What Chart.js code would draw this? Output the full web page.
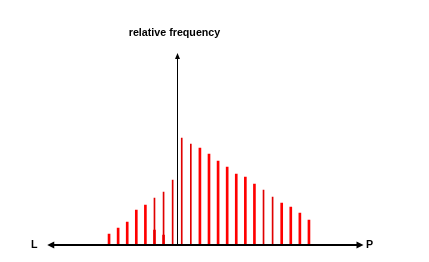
<!DOCTYPE html>
<html>
<head>
<meta charset="utf-8">
<script src="https://cdn.jsdelivr.net/npm/chart.js@4/dist/chart.umd.min.js"></script>
<style>
  html, body { margin: 0; padding: 0; background: #fff; }
  #wrap { width: 429px; height: 262px; }
</style>
</head>
<body>
<div id="wrap"><canvas id="chart" width="429" height="262"></canvas></div>
<script>
// ---- data ----
const slots = ["1","2","3","4","5","6","7","8","9","10","11","12","13","14","15","16","17","18","19","20","21","22","23"];
const thickBars = [11, 17, 23, 35, 40, 15, 10, null, null, null, 97, 91, 84, 78, 71, 68, 61, null, null, 42, 38, 32, 25];
const thinBars  = [null, null, null, null, null, 47, 53, 65, 107, 101, null, null, null, null, null, null, null, 55, 48, null, null, null, null];
const yTitle = "relative frequency";
const leftLabel = "L";
const rightLabel = "P";

// axes with arrow heads + labels
const arrowAxes = {
  id: "arrowAxes",
  afterDatasetsDraw(chart) {
    const { ctx, scales } = chart;
    const x = scales.x, y = scales.y;
    const step = x.getPixelForValue(1) - x.getPixelForValue(0);
    const y0 = Math.round(y.getPixelForValue(0));
    const xMid = Math.round((x.getPixelForValue(7) + x.getPixelForValue(8)) / 2) + 0.5;
    const left = x.getPixelForValue(0) - step * 6.8;
    const right = x.getPixelForValue(22) + step * 6;
    const top = y.getPixelForValue(192);

    ctx.save();
    ctx.fillStyle = "#000";
    ctx.strokeStyle = "#000";

    // horizontal axis
    ctx.lineWidth = 2;
    ctx.beginPath();
    ctx.moveTo(left + 4, y0);
    ctx.lineTo(right - 4, y0);
    ctx.stroke();
    ctx.beginPath();
    ctx.moveTo(left, y0);
    ctx.lineTo(left + 7, y0 - 3.5);
    ctx.lineTo(left + 7, y0 + 3.5);
    ctx.closePath();
    ctx.fill();
    ctx.beginPath();
    ctx.moveTo(right, y0);
    ctx.lineTo(right - 7, y0 - 3.5);
    ctx.lineTo(right - 7, y0 + 3.5);
    ctx.closePath();
    ctx.fill();

    // vertical axis
    ctx.lineWidth = 1;
    ctx.beginPath();
    ctx.moveTo(xMid, y0);
    ctx.lineTo(xMid, top + 3);
    ctx.stroke();
    ctx.beginPath();
    ctx.moveTo(xMid, top);
    ctx.lineTo(xMid - 2.5, top + 6);
    ctx.lineTo(xMid + 2.5, top + 6);
    ctx.closePath();
    ctx.fill();

    // labels
    ctx.font = "bold 10.7px 'Liberation Sans', Arial, sans-serif";
    ctx.textBaseline = "middle";
    ctx.textAlign = "center";
    ctx.fillText(yTitle, xMid - 3, 33);
    ctx.fillText(leftLabel, left - 13, y0);
    ctx.fillText(rightLabel, right + 6, y0);
    ctx.restore();
  }
};

const ctx = document.getElementById("chart").getContext("2d");
new Chart(ctx, {
  type: "bar",
  data: {
    labels: slots,
    datasets: [
      { data: thinBars,  backgroundColor: "#e00000", barThickness: 1, grouped: false },
      { data: thickBars, backgroundColor: "#ff0000", barThickness: 2, grouped: false }
    ]
  },
  options: {
    responsive: false,
    animation: false,
    layout: { padding: { left: 104.5, right: 115.5, top: 45, bottom: 17 } },
    plugins: { legend: { display: false }, tooltip: { enabled: false }, title: { display: false } },
    scales: {
      x: { display: false, offset: true },
      y: { display: false, min: 0, max: 200 }
    }
  },
  plugins: [arrowAxes]
});
</script>
</body>
</html>
